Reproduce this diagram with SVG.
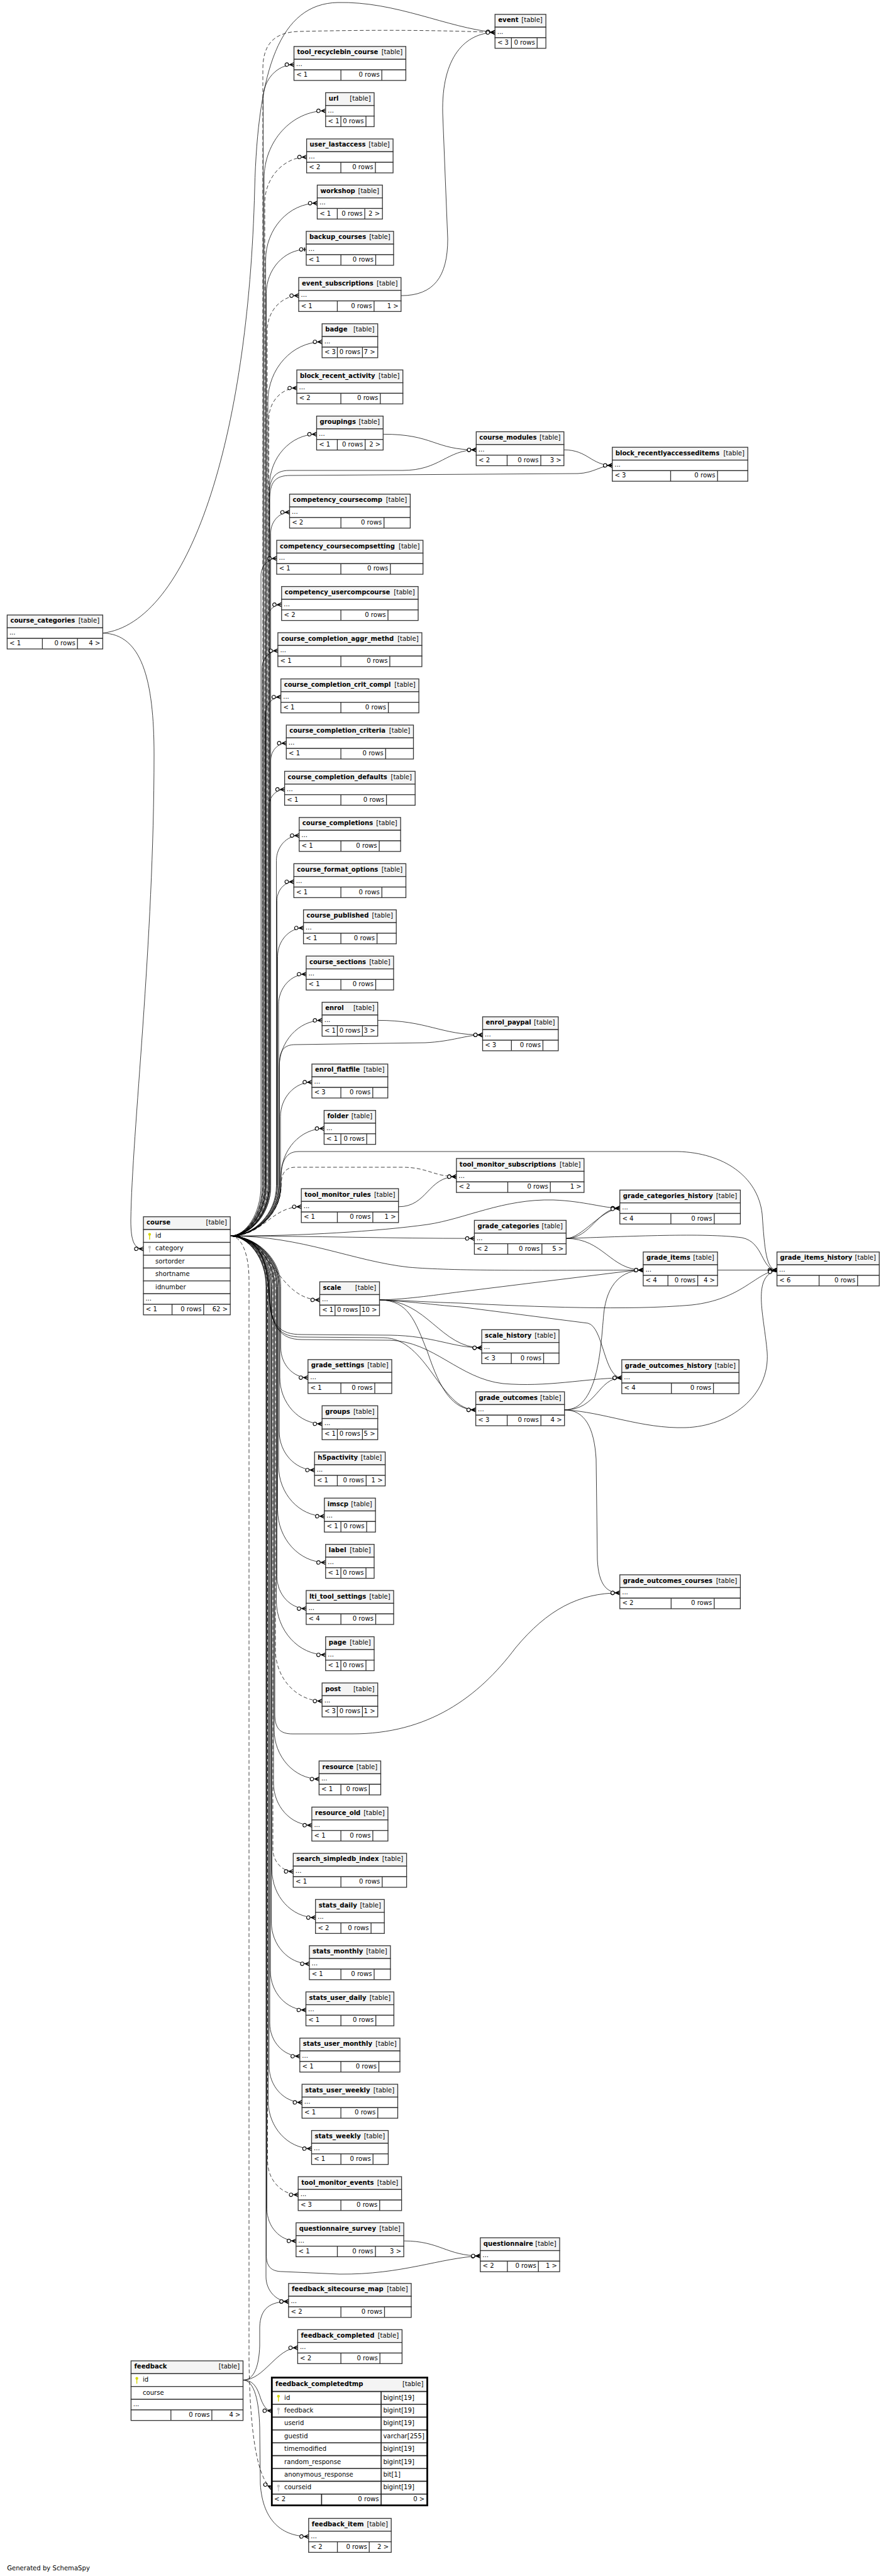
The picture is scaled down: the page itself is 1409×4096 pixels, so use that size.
<svg xmlns="http://www.w3.org/2000/svg" xmlns:xlink="http://www.w3.org/1999/xlink" width="1409" height="4096" viewBox="0 0 1409 4096">
<style>
.h{fill:#f4f4f4;stroke:#333;stroke-width:1.3}
.b{fill:#fff;stroke:#333;stroke-width:1.3}
.l{fill:none;stroke:#333;stroke-width:1.3}
.n{font-family:"DejaVu Sans",sans-serif;font-size:10.1px;font-weight:bold;fill:#000}
.t{font-family:"DejaVu Sans",sans-serif;font-size:10.1px;fill:#000}
.r{text-anchor:end}
.e{fill:none;stroke:#000;stroke-width:0.75;marker-end:url(#m)}
.d{stroke-dasharray:6 3.5}
.o{marker-end:url(#m1)}
</style>
<defs>
<marker id="m" viewBox="-16 -5 17 10" refX="0" refY="0" markerWidth="17" markerHeight="10" markerUnits="userSpaceOnUse" orient="auto" overflow="visible">
<path d="M0,-3.2L-6.8,0L0,3.2M-6.8,0H0" fill="none" stroke="#000" stroke-width="1.3" stroke-dasharray="none"/>
<circle cx="-11.4" cy="0" r="2.8" fill="#fff" stroke="#000" stroke-width="1.1" stroke-dasharray="none"/>
</marker>
<marker id="m1" viewBox="-16 -5 17 10" refX="0" refY="0" markerWidth="17" markerHeight="10" markerUnits="userSpaceOnUse" orient="auto" overflow="visible">
<path d="M-2.6,-3V3" fill="none" stroke="#000" stroke-width="1.8"/>
<circle cx="-8" cy="0" r="2.8" fill="#fff" stroke="#000" stroke-width="1.1"/>
</marker>
<symbol id="k" viewBox="0 0 5 11" width="5" height="11" overflow="visible"><circle cx="2.5" cy="2.3" r="2.2"/><rect x="1.8" y="3.5" width="1.4" height="7.2"/></symbol>
</defs>
<rect width="1409" height="4096" fill="#fff"/>
<g id="connectors">
<path class="e" d="M366.2,1965.3C392.4,1965.3 418.5,1930.3 418.5,1885.3L418.5,156.6C418.5,127 440.6,102.7 467.5,102.7"/>
<path class="e" d="M366.2,1965.3C393.1,1965.3 420,1930.3 420,1885.3L420,283.8C420,224.6 464,176.2 517.8,176.2"/>
<path class="e d" d="M366.2,1965.3C393.6,1965.3 421,1930.3 421,1885.3L421,323C421,282.7 451,249.7 487.6,249.7"/>
<path class="e" d="M366.2,1965.3C394.4,1965.3 422.5,1930.3 422.5,1885.3L422.5,413.3C422.5,363.7 459.4,323.1 504.5,323.1"/>
<path class="e o" d="M366.2,1965.3C394.9,1965.3 423.5,1930.3 423.5,1885.3L423.5,466.5C423.5,428 452.1,396.6 487,396.6"/>
<path class="e d" d="M366.2,1965.3C395.6,1965.3 425,1930.3 425,1885.3L425,525.1C425,494.9 447.5,470.1 475,470.1"/>
<path class="e" d="M366.2,1965.3C396.1,1965.3 426,1930.3 426,1885.3L426,638.4C426,586.3 464.8,543.6 512.2,543.6"/>
<path class="e d" d="M366.2,1965.3C396.9,1965.3 427.5,1930.3 427.5,1885.3L427.5,666C427.5,639 447.5,617 472,617"/>
<path class="e" d="M366.2,1965.3C397.4,1965.3 428.5,1930.3 428.5,1885.3L428.5,772.9C428.5,727.5 462.3,690.4 503.5,690.4"/>
<path class="e" d="M366.2,1965.3C398.4,1965.3 430.5,1930.3 430.5,1885.3L430.5,847.5C430.5,829.4 444,814.5 460.5,814.5"/>
<path class="e" d="M366.2,1965.3C390.6,1965.3 415,1930.3 415,1885.3L415,915.4C415,900.3 426.3,887.9 440,887.9"/>
<path class="e" d="M366.2,1965.3C394.6,1965.3 423,1930.3 423,1885.3L423,988.7C423,973.7 434.2,961.4 447.8,961.4"/>
<path class="e" d="M366.2,1965.3C391.6,1965.3 417,1930.3 417,1885.3L417,1062.2C417,1047.1 428.2,1034.8 441.9,1034.8"/>
<path class="e" d="M366.2,1965.3C393.9,1965.3 421.5,1930.3 421.5,1885.3L421.5,1136C421.5,1120.8 432.8,1108.3 446.7,1108.3"/>
<path class="e" d="M366.2,1965.3C398.4,1965.3 430.5,1930.3 430.5,1885.3L430.5,1209C430.5,1194 441.7,1181.7 455.3,1181.7"/>
<path class="e" d="M366.2,1965.3C396.9,1965.3 427.5,1930.3 427.5,1885.3L427.5,1282.8C427.5,1267.6 438.8,1255.2 452.6,1255.2"/>
<path class="e" d="M366.2,1965.3C402.9,1965.3 439.5,1930.3 439.5,1885.3L439.5,1368.5C439.5,1346.6 455.8,1328.6 475.8,1328.6"/>
<path class="e" d="M366.2,1965.3C403.4,1965.3 440.5,1930.3 440.5,1885.3L440.5,1431.6C440.5,1415.4 452.6,1402.1 467.3,1402.1"/>
<path class="e" d="M366.2,1965.3C403.9,1965.3 441.5,1930.3 441.5,1885.3L441.5,1520.7C441.5,1495.8 460,1475.5 482.6,1475.5"/>
<path class="e" d="M366.2,1965.3C404.6,1965.3 443,1930.3 443,1885.3L443,1597.3C443,1570.7 462.8,1549 486.9,1549"/>
<path class="e" d="M366.2,1965.3C405.1,1965.3 444,1930.3 444,1885.3L444,1697.4C444,1656.2 474.7,1622.4 512.2,1622.4"/>
<path class="e" d="M366.2,1965.3C406.1,1965.3 446,1930.3 446,1885.3L446,1775.7C446,1745.5 468.5,1720.7 496,1720.7"/>
<path class="e" d="M366.2,1965.3C406.6,1965.3 447,1930.3 447,1885.3L447,1869.6C447,1828.2 477.8,1794.4 515.4,1794.4"/>
<path class="e d" d="M366.2,1965.3C420,1965.3 430,1918.8 479.2,1918.8"/>
<path class="e d" d="M366.2,1965.3C392.1,1965.3 418,1930.3 418,1885.3L418,110C418,70 436,51 476,50C600,47 700,48 787.2,51.6"/>
<path class="e" d="M366.2,1965.3C397.1,1965.3 428,1930.3 428,1885.3L428,790C428,762 436,748 460,748L640,748C700,748 710,715.3 757.3,715.3"/>
<path class="e" d="M366.2,1965.3C397.6,1965.3 429,1930.3 429,1885.3L429,795C429,767 437,756 462,756L919,753C945,752 955,740 973.7,740"/>
<path class="e" d="M366.2,1965.3C405.4,1965.3 444.5,1930.3 444.5,1885.3L444.5,1690C444.5,1670 452,1661 470,1661L676,1658C720,1656 740,1645.6 767.5,1645.6"/>
<path class="e" d="M366.2,1965.3C406.1,1965.3 446,1930.3 446,1885.3C446,1850 452,1831 475,1831L1078,1831C1150,1833 1205,1870 1212,1930C1216,1985 1218,2019.5 1235.6,2019.5"/>
<path class="e d" d="M366.2,1965.3C406.6,1965.3 447,1930.3 447,1885.3C447,1868 452,1856 470,1856L640,1856C680,1856 690,1870.9 725.8,1870.9"/>
<path class="e" d="M366.2,1965.3C480,1965.3 600,1958 680,1947C740,1938 800,1906 880,1908C930,1910 960,1921.1 985.7,1921.1"/>
<path class="e" d="M366.2,1965.3C500,1965.3 620,1969.2 754.4,1969.2"/>
<path class="e" d="M366.2,1965.3C480,1965.3 560,2005 650,2015C720,2021 850,2020 1022.9,2019.5"/>
<path class="e" d="M366.2,1965.3C410,1965.3 425,2000 428,2060C430,2110 445,2126 480,2126L610,2127C680,2128 700,2241.8 756.6,2241.8"/>
<path class="e" d="M366.2,1965.3C410,1965.3 425,2000 428,2060C430,2108 445,2122 480,2122L620,2123C690,2124 720,2143.1 766.1,2143.1"/>
<path class="e" d="M366.2,1965.3C410,1965.3 426,2000 429,2060C431,2110 446,2130 480,2130L620,2131C690,2133 730,2192 800,2200C870,2206 930,2192 988.8,2190.8"/>
<path class="e" d="M366.2,1965.3C401.6,1965.3 437,2000.3 437,2045.3L437,2725C437,2748 445,2757 465,2757L560,2757C680,2757 760,2700 820,2620C870,2560 920,2532.8 985.7,2532.8"/>
<path class="e" d="M366.2,1965.3C394.9,1965.3 423.5,2000.3 423.5,2045.3L423.5,3585C423.5,3604 431,3612 450,3612L540,3616C640,3617 700,3590 763.8,3587"/>
<path class="e d" d="M366.2,1965.3C385,1965.3 396,1995.3 396,2035.3L396,3750C397,3870 410,3945 432.3,3955.6"/>
<path class="e d" d="M366.2,1965.3C430,1965.3 440,2066.9 508.5,2066.9"/>
<path class="e" d="M366.2,1965.3C406.4,1965.3 446.5,2000.3 446.5,2045.3L446.5,2143C446.5,2169.2 466,2190.6 489.8,2190.6"/>
<path class="e" d="M366.2,1965.3C405.6,1965.3 445,2000.3 445,2045.3L445,2190.1C445,2230.7 475.2,2264 512.2,2264"/>
<path class="e" d="M366.2,1965.3C405.1,1965.3 444,2000.3 444,2045.3L444,2275.7C444,2309.7 469.3,2337.5 500.2,2337.5"/>
<path class="e" d="M366.2,1965.3C404.6,1965.3 443,2000.3 443,2045.3L443,2330.8C443,2374.9 475.8,2410.9 515.8,2410.9"/>
<path class="e" d="M366.2,1965.3C403.9,1965.3 441.5,2000.3 441.5,2045.3L441.5,2400.5C441.5,2446.6 475.8,2484.4 517.8,2484.4"/>
<path class="e" d="M366.2,1965.3C403.4,1965.3 440.5,2000.3 440.5,2045.3L440.5,2506.8C440.5,2534.8 461.4,2557.8 486.9,2557.8"/>
<path class="e" d="M366.2,1965.3C402.9,1965.3 439.5,2000.3 439.5,2045.3L439.5,2545.2C439.5,2592.6 474.7,2631.3 517.8,2631.3"/>
<path class="e d" d="M366.2,1965.3C402.1,1965.3 438,2000.3 438,2045.3L438,2623.2C438,2668.1 471.4,2704.8 512.2,2704.8"/>
<path class="e" d="M366.2,1965.3C401.1,1965.3 436,2000.3 436,2045.3L436,2750.3C436,2793.5 468.1,2828.8 507.4,2828.8"/>
<path class="e" d="M366.2,1965.3C400.6,1965.3 435,2000.3 435,2045.3L435,2835.2C435,2872 462.4,2902.2 495.9,2902.2"/>
<path class="e d" d="M366.2,1965.3C400.1,1965.3 434,2000.3 434,2045.3L434,2940.2C434,2959.7 448.5,2975.7 466.3,2975.7"/>
<path class="e" d="M366.2,1965.3C399.4,1965.3 432.5,2000.3 432.5,2045.3L432.5,2973C432.5,3014.9 463.6,3049.1 501.7,3049.1"/>
<path class="e" d="M366.2,1965.3C398.9,1965.3 431.5,2000.3 431.5,2045.3L431.5,3056C431.5,3092.6 458.7,3122.6 492,3122.6"/>
<path class="e" d="M366.2,1965.3C398.1,1965.3 430,2000.3 430,2045.3L430,3133.8C430,3168 455.4,3196 486.5,3196"/>
<path class="e" d="M366.2,1965.3C397.6,1965.3 429,2000.3 429,2045.3L429,3216.9C429,3245.8 450.5,3269.5 476.8,3269.5"/>
<path class="e" d="M366.2,1965.3C397.1,1965.3 428,2000.3 428,2045.3L428,3285.4C428,3317 451.5,3342.9 480.3,3342.9"/>
<path class="e" d="M366.2,1965.3C396.4,1965.3 426.5,2000.3 426.5,2045.3L426.5,3340.5C426.5,3382.2 457.5,3416.4 495.5,3416.4"/>
<path class="e d" d="M366.2,1965.3C395.9,1965.3 425.5,2000.3 425.5,2045.3L425.5,3436.2C425.5,3465.7 447.4,3489.8 474.2,3489.8"/>
<path class="e" d="M366.2,1965.3C395.4,1965.3 424.5,2000.3 424.5,2045.3L424.5,3512.3C424.5,3540.3 445.3,3563.2 470.8,3563.2"/>
<path class="e" d="M366.2,1965.3C394.6,1965.3 423,2000.3 423,2045.3L423,3620.1C423,3641.8 439.2,3659.6 458.9,3659.6"/>
<path class="e" d="M163.4,1006.7C300,990 395,700 405,300C410,110 445,6 537,4C630,2 710,44 787.2,51.6"/>
<path class="e" d="M163.4,1006.7C225,1008 245,1080 245,1200C245,1500 210,1800 208,1940C208,1975 214,1985.7 228.1,1985.7"/>
<path class="e" d="M637.8,470.1C690,470.1 712,440 712,380L704,180C702,90 740,52 787.2,51.6"/>
<path class="e" d="M609.3,690.4C690,690.4 690,715.3 757.3,715.3"/>
<path class="e" d="M896.8,715.3C935,715.3 940,740 973.7,740"/>
<path class="e" d="M600.7,1622.4C680,1622.4 700,1645.6 767.5,1645.6"/>
<path class="e" d="M633.7,1918.8C680,1918.8 680,1870.9 725.8,1870.9"/>
<path class="e" d="M900.3,1969.2C940,1969.2 950,1921.1 985.7,1921.1"/>
<path class="e" d="M900.3,1969.2C925,1969.2 955,1924 985.7,1921.1"/>
<path class="e" d="M900.3,1969.2C960,1969.2 970,2019.5 1022.9,2019.5"/>
<path class="e" d="M900.3,1969.2C1000,1966 1120,1960 1180,1968C1215,1975 1210,2019.5 1235.6,2019.5"/>
<path class="e" d="M1141.1,2019.5L1235.6,2019.5"/>
<path class="e" d="M603.9,2066.9C650,2066 700,2058 732,2054L1000,2021C1010,2020 1015,2019.5 1022.9,2019.5"/>
<path class="e" d="M603.9,2066.9C650,2068 690,2071 732,2072C850,2078 1000,2084 1100,2075C1180,2066 1200,2025 1235.6,2019.5"/>
<path class="e" d="M603.9,2066.9C660,2070 700,2076 732,2078L935,2104C960,2110 960,2190.8 988.8,2190.8"/>
<path class="e" d="M603.9,2066.9C680,2066.9 700,2143.1 766.1,2143.1"/>
<path class="e" d="M603.9,2066.9C650,2068 660,2100 680,2150C700,2210 720,2241.8 756.6,2241.8"/>
<path class="e" d="M897.7,2241.8C950,2241.8 955,2150 960,2090C965,2040 990,2019.5 1022.9,2019.5"/>
<path class="e" d="M897.7,2241.8C950,2241.8 950,2190.8 988.8,2190.8"/>
<path class="e" d="M897.7,2241.8C960,2245 1020,2272 1090,2270C1160,2268 1225,2220 1220,2150C1215,2090 1195,2030 1235.6,2019.5"/>
<path class="e" d="M897.7,2241.8C930,2241.8 945,2270 948,2320L950,2480C952,2520 965,2532.8 985.7,2532.8"/>
<path class="e" d="M642.1,3563.2C700,3563.2 710,3587 763.8,3587"/>
<path class="e" d="M386.5,3784.5C405,3784.5 410,3800 415,3815C420,3828 425,3833.2 432.3,3833.2"/>
<path class="e" d="M386.5,3784.5C420,3784.5 440,3733.1 473.4,3733.1"/>
<path class="e" d="M386.5,3784.5C405,3784.5 412,3760 413,3730L413,3700C414,3670 430,3659.6 458.9,3659.6"/>
<path class="e" d="M386.5,3784.5C405,3784.5 412,3820 413,3860L414,3950C418,4010 450,4033.2 490.8,4033.2"/>
</g>
<g id="event" transform="translate(787.2,22.8)"><rect class="h" width="80.9" height="20.4"/><rect class="b" y="20.4" width="80.9" height="16.8"/><rect class="b" y="37.2" width="80.9" height="16.8"/><path class="l" d="M26.1 37.2V54M67 37.2V54"/><text class="n" x="5" y="12.5">event</text><text class="t r" x="75.6" y="12.5">[table]</text><text class="t" x="3.5" y="31.2">...</text><text class="t" x="3.7" y="48.3">&lt; 3</text><text class="t r" x="63.5" y="48.3">0 rows</text></g>
<g id="tool_recyclebin_course" transform="translate(467.5,73.9)"><rect class="h" width="177.9" height="20.4"/><rect class="b" y="20.4" width="177.9" height="16.8"/><rect class="b" y="37.2" width="177.9" height="16.8"/><path class="l" d="M74.65 37.2V54M139.7 37.2V54"/><text class="n" x="5" y="12.5">tool_recyclebin_course</text><text class="t r" x="172.6" y="12.5">[table]</text><text class="t" x="3.5" y="31.2">...</text><text class="t" x="3.7" y="48.3">&lt; 1</text><text class="t r" x="136.2" y="48.3">0 rows</text></g>
<g id="url" transform="translate(517.8,147.4)"><rect class="h" width="77.2" height="20.4"/><rect class="b" y="20.4" width="77.2" height="16.8"/><rect class="b" y="37.2" width="77.2" height="16.8"/><path class="l" d="M24.3 37.2V54M64.2 37.2V54"/><text class="n" x="5" y="12.5">url</text><text class="t r" x="71.9" y="12.5">[table]</text><text class="t" x="3.5" y="31.2">...</text><text class="t" x="3.7" y="48.3">&lt; 1</text><text class="t r" x="60.7" y="48.3">0 rows</text></g>
<g id="user_lastaccess" transform="translate(487.6,220.9)"><rect class="h" width="137.5" height="20.4"/><rect class="b" y="20.4" width="137.5" height="16.8"/><rect class="b" y="37.2" width="137.5" height="16.8"/><path class="l" d="M54.45 37.2V54M109.4 37.2V54"/><text class="n" x="5" y="12.5">user_lastaccess</text><text class="t r" x="132.2" y="12.5">[table]</text><text class="t" x="3.5" y="31.2">...</text><text class="t" x="3.7" y="48.3">&lt; 2</text><text class="t r" x="105.9" y="48.3">0 rows</text></g>
<g id="workshop" transform="translate(504.5,294.3)"><rect class="h" width="103.7" height="20.4"/><rect class="b" y="20.4" width="103.7" height="16.8"/><rect class="b" y="37.2" width="103.7" height="16.8"/><path class="l" d="M31.9 37.2V54M75.6 37.2V54"/><text class="n" x="5" y="12.5">workshop</text><text class="t r" x="98.4" y="12.5">[table]</text><text class="t" x="3.5" y="31.2">...</text><text class="t" x="3.7" y="48.3">&lt; 1</text><text class="t r" x="72.1" y="48.3">0 rows</text><text class="t r" x="99.7" y="48.3">2 &gt;</text></g>
<g id="backup_courses" transform="translate(487,367.8)"><rect class="h" width="138.9" height="20.4"/><rect class="b" y="20.4" width="138.9" height="16.8"/><rect class="b" y="37.2" width="138.9" height="16.8"/><path class="l" d="M55.15 37.2V54M110.5 37.2V54"/><text class="n" x="5" y="12.5">backup_courses</text><text class="t r" x="133.6" y="12.5">[table]</text><text class="t" x="3.5" y="31.2">...</text><text class="t" x="3.7" y="48.3">&lt; 1</text><text class="t r" x="107" y="48.3">0 rows</text></g>
<g id="event_subscriptions" transform="translate(475,441.3)"><rect class="h" width="162.8" height="20.4"/><rect class="b" y="20.4" width="162.8" height="16.8"/><rect class="b" y="37.2" width="162.8" height="16.8"/><path class="l" d="M61.45 37.2V54M119.9 37.2V54"/><text class="n" x="5" y="12.5">event_subscriptions</text><text class="t r" x="157.5" y="12.5">[table]</text><text class="t" x="3.5" y="31.2">...</text><text class="t" x="3.7" y="48.3">&lt; 1</text><text class="t r" x="116.4" y="48.3">0 rows</text><text class="t r" x="158.8" y="48.3">1 &gt;</text></g>
<g id="badge" transform="translate(512.2,514.8)"><rect class="h" width="88.5" height="20.4"/><rect class="b" y="20.4" width="88.5" height="16.8"/><rect class="b" y="37.2" width="88.5" height="16.8"/><path class="l" d="M24.3 37.2V54M64.2 37.2V54"/><text class="n" x="5" y="12.5">badge</text><text class="t r" x="83.2" y="12.5">[table]</text><text class="t" x="3.5" y="31.2">...</text><text class="t" x="3.7" y="48.3">&lt; 3</text><text class="t r" x="60.7" y="48.3">0 rows</text><text class="t r" x="84.5" y="48.3">7 &gt;</text></g>
<g id="block_recent_activity" transform="translate(472,588.2)"><rect class="h" width="168.7" height="20.4"/><rect class="b" y="20.4" width="168.7" height="16.8"/><rect class="b" y="37.2" width="168.7" height="16.8"/><path class="l" d="M70.05 37.2V54M132.8 37.2V54"/><text class="n" x="5" y="12.5">block_recent_activity</text><text class="t r" x="163.4" y="12.5">[table]</text><text class="t" x="3.5" y="31.2">...</text><text class="t" x="3.7" y="48.3">&lt; 2</text><text class="t r" x="129.3" y="48.3">0 rows</text></g>
<g id="groupings" transform="translate(503.5,661.6)"><rect class="h" width="105.8" height="20.4"/><rect class="b" y="20.4" width="105.8" height="16.8"/><rect class="b" y="37.2" width="105.8" height="16.8"/><path class="l" d="M32.95 37.2V54M77.2 37.2V54"/><text class="n" x="5" y="12.5">groupings</text><text class="t r" x="100.5" y="12.5">[table]</text><text class="t" x="3.5" y="31.2">...</text><text class="t" x="3.7" y="48.3">&lt; 1</text><text class="t r" x="73.7" y="48.3">0 rows</text><text class="t r" x="101.8" y="48.3">2 &gt;</text></g>
<g id="competency_coursecomp" transform="translate(460.5,785.7)"><rect class="h" width="191.9" height="20.4"/><rect class="b" y="20.4" width="191.9" height="16.8"/><rect class="b" y="37.2" width="191.9" height="16.8"/><path class="l" d="M81.65 37.2V54M150.2 37.2V54"/><text class="n" x="5" y="12.5">competency_coursecomp</text><text class="t r" x="186.6" y="12.5">[table]</text><text class="t" x="3.5" y="31.2">...</text><text class="t" x="3.7" y="48.3">&lt; 2</text><text class="t r" x="146.7" y="48.3">0 rows</text></g>
<g id="competency_coursecompsetting" transform="translate(440,859.1)"><rect class="h" width="232.7" height="20.4"/><rect class="b" y="20.4" width="232.7" height="16.8"/><rect class="b" y="37.2" width="232.7" height="16.8"/><path class="l" d="M102.05 37.2V54M180.8 37.2V54"/><text class="n" x="5" y="12.5">competency_coursecompsetting</text><text class="t r" x="227.4" y="12.5">[table]</text><text class="t" x="3.5" y="31.2">...</text><text class="t" x="3.7" y="48.3">&lt; 1</text><text class="t r" x="177.3" y="48.3">0 rows</text></g>
<g id="competency_usercompcourse" transform="translate(447.8,932.6)"><rect class="h" width="217.2" height="20.4"/><rect class="b" y="20.4" width="217.2" height="16.8"/><rect class="b" y="37.2" width="217.2" height="16.8"/><path class="l" d="M94.3 37.2V54M169.2 37.2V54"/><text class="n" x="5" y="12.5">competency_usercompcourse</text><text class="t r" x="211.9" y="12.5">[table]</text><text class="t" x="3.5" y="31.2">...</text><text class="t" x="3.7" y="48.3">&lt; 2</text><text class="t r" x="165.7" y="48.3">0 rows</text></g>
<g id="course_completion_aggr_methd" transform="translate(441.9,1006)"><rect class="h" width="229" height="20.4"/><rect class="b" y="20.4" width="229" height="16.8"/><rect class="b" y="37.2" width="229" height="16.8"/><path class="l" d="M100.2 37.2V54M178 37.2V54"/><text class="n" x="5" y="12.5">course_completion_aggr_methd</text><text class="t r" x="223.7" y="12.5">[table]</text><text class="t" x="3.5" y="31.2">...</text><text class="t" x="3.7" y="48.3">&lt; 1</text><text class="t r" x="174.5" y="48.3">0 rows</text></g>
<g id="course_completion_crit_compl" transform="translate(446.7,1079.5)"><rect class="h" width="219.4" height="20.4"/><rect class="b" y="20.4" width="219.4" height="16.8"/><rect class="b" y="37.2" width="219.4" height="16.8"/><path class="l" d="M95.4 37.2V54M170.9 37.2V54"/><text class="n" x="5" y="12.5">course_completion_crit_compl</text><text class="t r" x="214.1" y="12.5">[table]</text><text class="t" x="3.5" y="31.2">...</text><text class="t" x="3.7" y="48.3">&lt; 1</text><text class="t r" x="167.4" y="48.3">0 rows</text></g>
<g id="course_completion_criteria" transform="translate(455.3,1152.9)"><rect class="h" width="202.2" height="20.4"/><rect class="b" y="20.4" width="202.2" height="16.8"/><rect class="b" y="37.2" width="202.2" height="16.8"/><path class="l" d="M86.8 37.2V54M158 37.2V54"/><text class="n" x="5" y="12.5">course_completion_criteria</text><text class="t r" x="196.9" y="12.5">[table]</text><text class="t" x="3.5" y="31.2">...</text><text class="t" x="3.7" y="48.3">&lt; 1</text><text class="t r" x="154.5" y="48.3">0 rows</text></g>
<g id="course_completion_defaults" transform="translate(452.6,1226.4)"><rect class="h" width="207.6" height="20.4"/><rect class="b" y="20.4" width="207.6" height="16.8"/><rect class="b" y="37.2" width="207.6" height="16.8"/><path class="l" d="M89.5 37.2V54M162 37.2V54"/><text class="n" x="5" y="12.5">course_completion_defaults</text><text class="t r" x="202.3" y="12.5">[table]</text><text class="t" x="3.5" y="31.2">...</text><text class="t" x="3.7" y="48.3">&lt; 1</text><text class="t r" x="158.5" y="48.3">0 rows</text></g>
<g id="course_completions" transform="translate(475.8,1299.8)"><rect class="h" width="161.3" height="20.4"/><rect class="b" y="20.4" width="161.3" height="16.8"/><rect class="b" y="37.2" width="161.3" height="16.8"/><path class="l" d="M66.35 37.2V54M127.3 37.2V54"/><text class="n" x="5" y="12.5">course_completions</text><text class="t r" x="156" y="12.5">[table]</text><text class="t" x="3.5" y="31.2">...</text><text class="t" x="3.7" y="48.3">&lt; 1</text><text class="t r" x="123.8" y="48.3">0 rows</text></g>
<g id="course_format_options" transform="translate(467.3,1373.3)"><rect class="h" width="178.2" height="20.4"/><rect class="b" y="20.4" width="178.2" height="16.8"/><rect class="b" y="37.2" width="178.2" height="16.8"/><path class="l" d="M74.8 37.2V54M140 37.2V54"/><text class="n" x="5" y="12.5">course_format_options</text><text class="t r" x="172.9" y="12.5">[table]</text><text class="t" x="3.5" y="31.2">...</text><text class="t" x="3.7" y="48.3">&lt; 1</text><text class="t r" x="136.5" y="48.3">0 rows</text></g>
<g id="course_published" transform="translate(482.6,1446.7)"><rect class="h" width="147.6" height="20.4"/><rect class="b" y="20.4" width="147.6" height="16.8"/><rect class="b" y="37.2" width="147.6" height="16.8"/><path class="l" d="M59.5 37.2V54M117 37.2V54"/><text class="n" x="5" y="12.5">course_published</text><text class="t r" x="142.3" y="12.5">[table]</text><text class="t" x="3.5" y="31.2">...</text><text class="t" x="3.7" y="48.3">&lt; 1</text><text class="t r" x="113.5" y="48.3">0 rows</text></g>
<g id="course_sections" transform="translate(486.9,1520.2)"><rect class="h" width="139" height="20.4"/><rect class="b" y="20.4" width="139" height="16.8"/><rect class="b" y="37.2" width="139" height="16.8"/><path class="l" d="M55.2 37.2V54M110.6 37.2V54"/><text class="n" x="5" y="12.5">course_sections</text><text class="t r" x="133.7" y="12.5">[table]</text><text class="t" x="3.5" y="31.2">...</text><text class="t" x="3.7" y="48.3">&lt; 1</text><text class="t r" x="107.1" y="48.3">0 rows</text></g>
<g id="enrol" transform="translate(512.2,1593.6)"><rect class="h" width="88.5" height="20.4"/><rect class="b" y="20.4" width="88.5" height="16.8"/><rect class="b" y="37.2" width="88.5" height="16.8"/><path class="l" d="M24.3 37.2V54M64.2 37.2V54"/><text class="n" x="5" y="12.5">enrol</text><text class="t r" x="83.2" y="12.5">[table]</text><text class="t" x="3.5" y="31.2">...</text><text class="t" x="3.7" y="48.3">&lt; 1</text><text class="t r" x="60.7" y="48.3">0 rows</text><text class="t r" x="84.5" y="48.3">3 &gt;</text></g>
<g id="enrol_flatfile" transform="translate(496,1691.9)"><rect class="h" width="120.7" height="20.4"/><rect class="b" y="20.4" width="120.7" height="16.8"/><rect class="b" y="37.2" width="120.7" height="16.8"/><path class="l" d="M46.05 37.2V54M96.8 37.2V54"/><text class="n" x="5" y="12.5">enrol_flatfile</text><text class="t r" x="115.4" y="12.5">[table]</text><text class="t" x="3.5" y="31.2">...</text><text class="t" x="3.7" y="48.3">&lt; 3</text><text class="t r" x="93.3" y="48.3">0 rows</text></g>
<g id="folder" transform="translate(515.4,1765.6)"><rect class="h" width="82" height="20.4"/><rect class="b" y="20.4" width="82" height="16.8"/><rect class="b" y="37.2" width="82" height="16.8"/><path class="l" d="M26.7 37.2V54M67.8 37.2V54"/><text class="n" x="5" y="12.5">folder</text><text class="t r" x="76.7" y="12.5">[table]</text><text class="t" x="3.5" y="31.2">...</text><text class="t" x="3.7" y="48.3">&lt; 1</text><text class="t r" x="64.3" y="48.3">0 rows</text></g>
<g id="tool_monitor_rules" transform="translate(479.2,1890)"><rect class="h" width="154.5" height="20.4"/><rect class="b" y="20.4" width="154.5" height="16.8"/><rect class="b" y="37.2" width="154.5" height="16.8"/><path class="l" d="M57.3 37.2V54M113.7 37.2V54"/><text class="n" x="5" y="12.5">tool_monitor_rules</text><text class="t r" x="149.2" y="12.5">[table]</text><text class="t" x="3.5" y="31.2">...</text><text class="t" x="3.7" y="48.3">&lt; 1</text><text class="t r" x="110.2" y="48.3">0 rows</text><text class="t r" x="150.5" y="48.3">1 &gt;</text></g>
<g id="scale" transform="translate(508.5,2038.1)"><rect class="h" width="95" height="20.4"/><rect class="b" y="20.4" width="95" height="16.8"/><rect class="b" y="37.2" width="95" height="16.8"/><path class="l" d="M24.3 37.2V54M64.2 37.2V54"/><text class="n" x="5" y="12.5">scale</text><text class="t r" x="89.7" y="12.5">[table]</text><text class="t" x="3.5" y="31.2">...</text><text class="t" x="3.7" y="48.3">&lt; 1</text><text class="t r" x="60.7" y="48.3">0 rows</text><text class="t r" x="91" y="48.3">10 &gt;</text></g>
<g id="grade_settings" transform="translate(489.8,2161.8)"><rect class="h" width="133.2" height="20.4"/><rect class="b" y="20.4" width="133.2" height="16.8"/><rect class="b" y="37.2" width="133.2" height="16.8"/><path class="l" d="M52.3 37.2V54M106.2 37.2V54"/><text class="n" x="5" y="12.5">grade_settings</text><text class="t r" x="127.9" y="12.5">[table]</text><text class="t" x="3.5" y="31.2">...</text><text class="t" x="3.7" y="48.3">&lt; 1</text><text class="t r" x="102.7" y="48.3">0 rows</text></g>
<g id="groups" transform="translate(512.2,2235.2)"><rect class="h" width="88.5" height="20.4"/><rect class="b" y="20.4" width="88.5" height="16.8"/><rect class="b" y="37.2" width="88.5" height="16.8"/><path class="l" d="M24.3 37.2V54M64.2 37.2V54"/><text class="n" x="5" y="12.5">groups</text><text class="t r" x="83.2" y="12.5">[table]</text><text class="t" x="3.5" y="31.2">...</text><text class="t" x="3.7" y="48.3">&lt; 1</text><text class="t r" x="60.7" y="48.3">0 rows</text><text class="t r" x="84.5" y="48.3">5 &gt;</text></g>
<g id="h5pactivity" transform="translate(500.2,2308.7)"><rect class="h" width="112.4" height="20.4"/><rect class="b" y="20.4" width="112.4" height="16.8"/><rect class="b" y="37.2" width="112.4" height="16.8"/><path class="l" d="M36.25 37.2V54M82.1 37.2V54"/><text class="n" x="5" y="12.5">h5pactivity</text><text class="t r" x="107.1" y="12.5">[table]</text><text class="t" x="3.5" y="31.2">...</text><text class="t" x="3.7" y="48.3">&lt; 1</text><text class="t r" x="78.6" y="48.3">0 rows</text><text class="t r" x="108.4" y="48.3">1 &gt;</text></g>
<g id="imscp" transform="translate(515.8,2382.1)"><rect class="h" width="81.3" height="20.4"/><rect class="b" y="20.4" width="81.3" height="16.8"/><rect class="b" y="37.2" width="81.3" height="16.8"/><path class="l" d="M26.35 37.2V54M67.3 37.2V54"/><text class="n" x="5" y="12.5">imscp</text><text class="t r" x="76" y="12.5">[table]</text><text class="t" x="3.5" y="31.2">...</text><text class="t" x="3.7" y="48.3">&lt; 1</text><text class="t r" x="63.8" y="48.3">0 rows</text></g>
<g id="label" transform="translate(517.8,2455.6)"><rect class="h" width="77.2" height="20.4"/><rect class="b" y="20.4" width="77.2" height="16.8"/><rect class="b" y="37.2" width="77.2" height="16.8"/><path class="l" d="M24.3 37.2V54M64.2 37.2V54"/><text class="n" x="5" y="12.5">label</text><text class="t r" x="71.9" y="12.5">[table]</text><text class="t" x="3.5" y="31.2">...</text><text class="t" x="3.7" y="48.3">&lt; 1</text><text class="t r" x="60.7" y="48.3">0 rows</text></g>
<g id="lti_tool_settings" transform="translate(486.9,2529)"><rect class="h" width="139.1" height="20.4"/><rect class="b" y="20.4" width="139.1" height="16.8"/><rect class="b" y="37.2" width="139.1" height="16.8"/><path class="l" d="M55.25 37.2V54M110.6 37.2V54"/><text class="n" x="5" y="12.5">lti_tool_settings</text><text class="t r" x="133.8" y="12.5">[table]</text><text class="t" x="3.5" y="31.2">...</text><text class="t" x="3.7" y="48.3">&lt; 4</text><text class="t r" x="107.1" y="48.3">0 rows</text></g>
<g id="page" transform="translate(517.8,2602.5)"><rect class="h" width="77.2" height="20.4"/><rect class="b" y="20.4" width="77.2" height="16.8"/><rect class="b" y="37.2" width="77.2" height="16.8"/><path class="l" d="M24.3 37.2V54M64.2 37.2V54"/><text class="n" x="5" y="12.5">page</text><text class="t r" x="71.9" y="12.5">[table]</text><text class="t" x="3.5" y="31.2">...</text><text class="t" x="3.7" y="48.3">&lt; 1</text><text class="t r" x="60.7" y="48.3">0 rows</text></g>
<g id="post" transform="translate(512.2,2676)"><rect class="h" width="88.5" height="20.4"/><rect class="b" y="20.4" width="88.5" height="16.8"/><rect class="b" y="37.2" width="88.5" height="16.8"/><path class="l" d="M24.3 37.2V54M64.2 37.2V54"/><text class="n" x="5" y="12.5">post</text><text class="t r" x="83.2" y="12.5">[table]</text><text class="t" x="3.5" y="31.2">...</text><text class="t" x="3.7" y="48.3">&lt; 3</text><text class="t r" x="60.7" y="48.3">0 rows</text><text class="t r" x="84.5" y="48.3">1 &gt;</text></g>
<g id="resource" transform="translate(507.4,2800)"><rect class="h" width="98.1" height="20.4"/><rect class="b" y="20.4" width="98.1" height="16.8"/><rect class="b" y="37.2" width="98.1" height="16.8"/><path class="l" d="M34.75 37.2V54M79.9 37.2V54"/><text class="n" x="5" y="12.5">resource</text><text class="t r" x="92.8" y="12.5">[table]</text><text class="t" x="3.5" y="31.2">...</text><text class="t" x="3.7" y="48.3">&lt; 1</text><text class="t r" x="76.4" y="48.3">0 rows</text></g>
<g id="resource_old" transform="translate(495.9,2873.4)"><rect class="h" width="121" height="20.4"/><rect class="b" y="20.4" width="121" height="16.8"/><rect class="b" y="37.2" width="121" height="16.8"/><path class="l" d="M46.2 37.2V54M97 37.2V54"/><text class="n" x="5" y="12.5">resource_old</text><text class="t r" x="115.7" y="12.5">[table]</text><text class="t" x="3.5" y="31.2">...</text><text class="t" x="3.7" y="48.3">&lt; 1</text><text class="t r" x="93.5" y="48.3">0 rows</text></g>
<g id="search_simpledb_index" transform="translate(466.3,2946.9)"><rect class="h" width="180.3" height="20.4"/><rect class="b" y="20.4" width="180.3" height="16.8"/><rect class="b" y="37.2" width="180.3" height="16.8"/><path class="l" d="M75.85 37.2V54M141.5 37.2V54"/><text class="n" x="5" y="12.5">search_simpledb_index</text><text class="t r" x="175" y="12.5">[table]</text><text class="t" x="3.5" y="31.2">...</text><text class="t" x="3.7" y="48.3">&lt; 1</text><text class="t r" x="138" y="48.3">0 rows</text></g>
<g id="stats_daily" transform="translate(501.7,3020.3)"><rect class="h" width="109.5" height="20.4"/><rect class="b" y="20.4" width="109.5" height="16.8"/><rect class="b" y="37.2" width="109.5" height="16.8"/><path class="l" d="M40.45 37.2V54M88.4 37.2V54"/><text class="n" x="5" y="12.5">stats_daily</text><text class="t r" x="104.2" y="12.5">[table]</text><text class="t" x="3.5" y="31.2">...</text><text class="t" x="3.7" y="48.3">&lt; 2</text><text class="t r" x="84.9" y="48.3">0 rows</text></g>
<g id="stats_monthly" transform="translate(492,3093.8)"><rect class="h" width="128.9" height="20.4"/><rect class="b" y="20.4" width="128.9" height="16.8"/><rect class="b" y="37.2" width="128.9" height="16.8"/><path class="l" d="M50.15 37.2V54M103 37.2V54"/><text class="n" x="5" y="12.5">stats_monthly</text><text class="t r" x="123.6" y="12.5">[table]</text><text class="t" x="3.5" y="31.2">...</text><text class="t" x="3.7" y="48.3">&lt; 1</text><text class="t r" x="99.5" y="48.3">0 rows</text></g>
<g id="stats_user_daily" transform="translate(486.5,3167.2)"><rect class="h" width="139.9" height="20.4"/><rect class="b" y="20.4" width="139.9" height="16.8"/><rect class="b" y="37.2" width="139.9" height="16.8"/><path class="l" d="M55.65 37.2V54M111.2 37.2V54"/><text class="n" x="5" y="12.5">stats_user_daily</text><text class="t r" x="134.6" y="12.5">[table]</text><text class="t" x="3.5" y="31.2">...</text><text class="t" x="3.7" y="48.3">&lt; 1</text><text class="t r" x="107.7" y="48.3">0 rows</text></g>
<g id="stats_user_monthly" transform="translate(476.8,3240.7)"><rect class="h" width="159.2" height="20.4"/><rect class="b" y="20.4" width="159.2" height="16.8"/><rect class="b" y="37.2" width="159.2" height="16.8"/><path class="l" d="M65.3 37.2V54M125.7 37.2V54"/><text class="n" x="5" y="12.5">stats_user_monthly</text><text class="t r" x="153.9" y="12.5">[table]</text><text class="t" x="3.5" y="31.2">...</text><text class="t" x="3.7" y="48.3">&lt; 1</text><text class="t r" x="122.2" y="48.3">0 rows</text></g>
<g id="stats_user_weekly" transform="translate(480.3,3314.1)"><rect class="h" width="152.2" height="20.4"/><rect class="b" y="20.4" width="152.2" height="16.8"/><rect class="b" y="37.2" width="152.2" height="16.8"/><path class="l" d="M61.8 37.2V54M120.5 37.2V54"/><text class="n" x="5" y="12.5">stats_user_weekly</text><text class="t r" x="146.9" y="12.5">[table]</text><text class="t" x="3.5" y="31.2">...</text><text class="t" x="3.7" y="48.3">&lt; 1</text><text class="t r" x="117" y="48.3">0 rows</text></g>
<g id="stats_weekly" transform="translate(495.5,3387.6)"><rect class="h" width="121.9" height="20.4"/><rect class="b" y="20.4" width="121.9" height="16.8"/><rect class="b" y="37.2" width="121.9" height="16.8"/><path class="l" d="M46.65 37.2V54M97.7 37.2V54"/><text class="n" x="5" y="12.5">stats_weekly</text><text class="t r" x="116.6" y="12.5">[table]</text><text class="t" x="3.5" y="31.2">...</text><text class="t" x="3.7" y="48.3">&lt; 1</text><text class="t r" x="94.2" y="48.3">0 rows</text></g>
<g id="tool_monitor_events" transform="translate(474.2,3461)"><rect class="h" width="164.4" height="20.4"/><rect class="b" y="20.4" width="164.4" height="16.8"/><rect class="b" y="37.2" width="164.4" height="16.8"/><path class="l" d="M67.9 37.2V54M129.6 37.2V54"/><text class="n" x="5" y="12.5">tool_monitor_events</text><text class="t r" x="159.1" y="12.5">[table]</text><text class="t" x="3.5" y="31.2">...</text><text class="t" x="3.7" y="48.3">&lt; 3</text><text class="t r" x="126.1" y="48.3">0 rows</text></g>
<g id="questionnaire_survey" transform="translate(470.8,3534.4)"><rect class="h" width="171.3" height="20.4"/><rect class="b" y="20.4" width="171.3" height="16.8"/><rect class="b" y="37.2" width="171.3" height="16.8"/><path class="l" d="M65.7 37.2V54M126.3 37.2V54"/><text class="n" x="5" y="12.5">questionnaire_survey</text><text class="t r" x="166" y="12.5">[table]</text><text class="t" x="3.5" y="31.2">...</text><text class="t" x="3.7" y="48.3">&lt; 1</text><text class="t r" x="122.8" y="48.3">0 rows</text><text class="t r" x="167.3" y="48.3">3 &gt;</text></g>
<g id="feedback_sitecourse_map" transform="translate(458.9,3630.8)"><rect class="h" width="195.1" height="20.4"/><rect class="b" y="20.4" width="195.1" height="16.8"/><rect class="b" y="37.2" width="195.1" height="16.8"/><path class="l" d="M83.25 37.2V54M152.6 37.2V54"/><text class="n" x="5" y="12.5">feedback_sitecourse_map</text><text class="t r" x="189.8" y="12.5">[table]</text><text class="t" x="3.5" y="31.2">...</text><text class="t" x="3.7" y="48.3">&lt; 2</text><text class="t r" x="149.1" y="48.3">0 rows</text></g>
<g id="feedback_completed" transform="translate(473.4,3704.3)"><rect class="h" width="166" height="20.4"/><rect class="b" y="20.4" width="166" height="16.8"/><rect class="b" y="37.2" width="166" height="16.8"/><path class="l" d="M68.7 37.2V54M130.8 37.2V54"/><text class="n" x="5" y="12.5">feedback_completed</text><text class="t r" x="160.7" y="12.5">[table]</text><text class="t" x="3.5" y="31.2">...</text><text class="t" x="3.7" y="48.3">&lt; 2</text><text class="t r" x="127.3" y="48.3">0 rows</text></g>
<g id="feedback_item" transform="translate(490.8,4004.4)"><rect class="h" width="131.4" height="20.4"/><rect class="b" y="20.4" width="131.4" height="16.8"/><rect class="b" y="37.2" width="131.4" height="16.8"/><path class="l" d="M45.75 37.2V54M96.4 37.2V54"/><text class="n" x="5" y="12.5">feedback_item</text><text class="t r" x="126.1" y="12.5">[table]</text><text class="t" x="3.5" y="31.2">...</text><text class="t" x="3.7" y="48.3">&lt; 2</text><text class="t r" x="92.9" y="48.3">0 rows</text><text class="t r" x="127.4" y="48.3">2 &gt;</text></g>
<g id="course_modules" transform="translate(757.3,686.5)"><rect class="h" width="139.5" height="20.4"/><rect class="b" y="20.4" width="139.5" height="16.8"/><rect class="b" y="37.2" width="139.5" height="16.8"/><path class="l" d="M49.2 37.2V54M102.7 37.2V54"/><text class="n" x="5" y="12.5">course_modules</text><text class="t r" x="134.2" y="12.5">[table]</text><text class="t" x="3.5" y="31.2">...</text><text class="t" x="3.7" y="48.3">&lt; 2</text><text class="t r" x="99.2" y="48.3">0 rows</text><text class="t r" x="135.5" y="48.3">3 &gt;</text></g>
<g id="block_recentlyaccesseditems" transform="translate(973.7,711.2)"><rect class="h" width="215.5" height="20.4"/><rect class="b" y="20.4" width="215.5" height="16.8"/><rect class="b" y="37.2" width="215.5" height="16.8"/><path class="l" d="M92.8 37.2V54M167.4 37.2V54"/><text class="n" x="5" y="12.5">block_recentlyaccesseditems</text><text class="t r" x="210.2" y="12.5">[table]</text><text class="t" x="3.5" y="31.2">...</text><text class="t" x="3.7" y="48.3">&lt; 3</text><text class="t r" x="163.9" y="48.3">0 rows</text></g>
<g id="course_categories" transform="translate(11.4,977.9)"><rect class="h" width="152" height="20.4"/><rect class="b" y="20.4" width="152" height="16.8"/><rect class="b" y="37.2" width="152" height="16.8"/><path class="l" d="M56 37.2V54M111.8 37.2V54"/><text class="n" x="5" y="12.5">course_categories</text><text class="t r" x="146.7" y="12.5">[table]</text><text class="t" x="3.5" y="31.2">...</text><text class="t" x="3.7" y="48.3">&lt; 1</text><text class="t r" x="108.3" y="48.3">0 rows</text><text class="t r" x="148" y="48.3">4 &gt;</text></g>
<g id="tool_monitor_subscriptions" transform="translate(725.8,1842.1)"><rect class="h" width="203" height="20.4"/><rect class="b" y="20.4" width="203" height="16.8"/><rect class="b" y="37.2" width="203" height="16.8"/><path class="l" d="M81.7 37.2V54M149.4 37.2V54"/><text class="n" x="5" y="12.5">tool_monitor_subscriptions</text><text class="t r" x="197.7" y="12.5">[table]</text><text class="t" x="3.5" y="31.2">...</text><text class="t" x="3.7" y="48.3">&lt; 2</text><text class="t r" x="145.9" y="48.3">0 rows</text><text class="t r" x="199" y="48.3">1 &gt;</text></g>
<g id="grade_categories_history" transform="translate(985.7,1892.3)"><rect class="h" width="191.7" height="20.4"/><rect class="b" y="20.4" width="191.7" height="16.8"/><rect class="b" y="37.2" width="191.7" height="16.8"/><path class="l" d="M81.2 37.2V54M150.2 37.2V54"/><text class="n" x="5" y="12.5">grade_categories_history</text><text class="t r" x="186.4" y="12.5">[table]</text><text class="t" x="3.5" y="31.2">...</text><text class="t" x="3.7" y="48.3">&lt; 4</text><text class="t r" x="146.7" y="48.3">0 rows</text></g>
<g id="grade_categories" transform="translate(754.4,1940.4)"><rect class="h" width="145.9" height="20.4"/><rect class="b" y="20.4" width="145.9" height="16.8"/><rect class="b" y="37.2" width="145.9" height="16.8"/><path class="l" d="M53.1 37.2V54M107.4 37.2V54"/><text class="n" x="5" y="12.5">grade_categories</text><text class="t r" x="140.6" y="12.5">[table]</text><text class="t" x="3.5" y="31.2">...</text><text class="t" x="3.7" y="48.3">&lt; 2</text><text class="t r" x="103.9" y="48.3">0 rows</text><text class="t r" x="141.9" y="48.3">5 &gt;</text></g>
<g id="grade_items" transform="translate(1022.9,1990.7)"><rect class="h" width="118.2" height="20.4"/><rect class="b" y="20.4" width="118.2" height="16.8"/><rect class="b" y="37.2" width="118.2" height="16.8"/><path class="l" d="M39.3 37.2V54M86.7 37.2V54"/><text class="n" x="5" y="12.5">grade_items</text><text class="t r" x="112.9" y="12.5">[table]</text><text class="t" x="3.5" y="31.2">...</text><text class="t" x="3.7" y="48.3">&lt; 4</text><text class="t r" x="83.2" y="48.3">0 rows</text><text class="t r" x="114.2" y="48.3">4 &gt;</text></g>
<g id="grade_items_history" transform="translate(1235.6,1990.7)"><rect class="h" width="162.7" height="20.4"/><rect class="b" y="20.4" width="162.7" height="16.8"/><rect class="b" y="37.2" width="162.7" height="16.8"/><path class="l" d="M67 37.2V54M128.2 37.2V54"/><text class="n" x="5" y="12.5">grade_items_history</text><text class="t r" x="157.4" y="12.5">[table]</text><text class="t" x="3.5" y="31.2">...</text><text class="t" x="3.7" y="48.3">&lt; 6</text><text class="t r" x="124.7" y="48.3">0 rows</text></g>
<g id="scale_history" transform="translate(766.1,2114.3)"><rect class="h" width="122.9" height="20.4"/><rect class="b" y="20.4" width="122.9" height="16.8"/><rect class="b" y="37.2" width="122.9" height="16.8"/><path class="l" d="M47 37.2V54M98.4 37.2V54"/><text class="n" x="5" y="12.5">scale_history</text><text class="t r" x="117.6" y="12.5">[table]</text><text class="t" x="3.5" y="31.2">...</text><text class="t" x="3.7" y="48.3">&lt; 3</text><text class="t r" x="94.9" y="48.3">0 rows</text></g>
<g id="grade_outcomes_history" transform="translate(988.8,2162)"><rect class="h" width="186.4" height="20.4"/><rect class="b" y="20.4" width="186.4" height="16.8"/><rect class="b" y="37.2" width="186.4" height="16.8"/><path class="l" d="M78.9 37.2V54M145.8 37.2V54"/><text class="n" x="5" y="12.5">grade_outcomes_history</text><text class="t r" x="181.1" y="12.5">[table]</text><text class="t" x="3.5" y="31.2">...</text><text class="t" x="3.7" y="48.3">&lt; 4</text><text class="t r" x="142.3" y="48.3">0 rows</text></g>
<g id="grade_outcomes" transform="translate(756.6,2213)"><rect class="h" width="141.1" height="20.4"/><rect class="b" y="20.4" width="141.1" height="16.8"/><rect class="b" y="37.2" width="141.1" height="16.8"/><path class="l" d="M50 37.2V54M103.6 37.2V54"/><text class="n" x="5" y="12.5">grade_outcomes</text><text class="t r" x="135.8" y="12.5">[table]</text><text class="t" x="3.5" y="31.2">...</text><text class="t" x="3.7" y="48.3">&lt; 3</text><text class="t r" x="100.1" y="48.3">0 rows</text><text class="t r" x="137.1" y="48.3">4 &gt;</text></g>
<g id="grade_outcomes_courses" transform="translate(985.7,2504)"><rect class="h" width="191.7" height="20.4"/><rect class="b" y="20.4" width="191.7" height="16.8"/><rect class="b" y="37.2" width="191.7" height="16.8"/><path class="l" d="M81.6 37.2V54M150.1 37.2V54"/><text class="n" x="5" y="12.5">grade_outcomes_courses</text><text class="t r" x="186.4" y="12.5">[table]</text><text class="t" x="3.5" y="31.2">...</text><text class="t" x="3.7" y="48.3">&lt; 2</text><text class="t r" x="146.6" y="48.3">0 rows</text></g>
<g id="enrol_paypal" transform="translate(767.5,1616.8)"><rect class="h" width="120.3" height="20.4"/><rect class="b" y="20.4" width="120.3" height="16.8"/><rect class="b" y="37.2" width="120.3" height="16.8"/><path class="l" d="M45.8 37.2V54M95.9 37.2V54"/><text class="n" x="5" y="12.5">enrol_paypal</text><text class="t r" x="115" y="12.5">[table]</text><text class="t" x="3.5" y="31.2">...</text><text class="t" x="3.7" y="48.3">&lt; 3</text><text class="t r" x="92.4" y="48.3">0 rows</text></g>
<g id="questionnaire" transform="translate(763.8,3558.2)"><rect class="h" width="126.2" height="20.4"/><rect class="b" y="20.4" width="126.2" height="16.8"/><rect class="b" y="37.2" width="126.2" height="16.8"/><path class="l" d="M43.1 37.2V54M92.4 37.2V54"/><text class="n" x="5" y="12.5">questionnaire</text><text class="t r" x="120.9" y="12.5">[table]</text><text class="t" x="3.5" y="31.2">...</text><text class="t" x="3.7" y="48.3">&lt; 2</text><text class="t r" x="88.9" y="48.3">0 rows</text><text class="t r" x="122.2" y="48.3">1 &gt;</text></g>
<g id="course" transform="translate(228.1,1934.7)"><rect class="h" width="138.1" height="20.4"/><rect class="b" y="20.4" width="138.1" height="20.4"/><rect class="b" y="40.8" width="138.1" height="20.4"/><rect class="b" y="61.2" width="138.1" height="20.4"/><rect class="b" y="81.6" width="138.1" height="20.4"/><rect class="b" y="102" width="138.1" height="20.4"/><rect class="b" y="122.4" width="138.1" height="16.8"/><rect class="b" y="139.2" width="138.1" height="16.8"/><path class="l" d="M45.5 139.2V156M95.8 139.2V156"/><text class="n" x="5" y="12.5">course</text><text class="t r" x="132.8" y="12.5">[table]</text><use href="#k" x="7.3" y="25.6" fill="#d6d600"/><use href="#k" x="7.3" y="46" fill="#c4c4c4"/><text class="t" x="19" y="33.4">id</text><text class="t" x="19" y="53.8">category</text><text class="t" x="19" y="74.2">sortorder</text><text class="t" x="19" y="94.6">shortname</text><text class="t" x="19" y="115">idnumber</text><text class="t" x="3.3" y="133.2">...</text><text class="t" x="3.7" y="150.3">&lt; 1</text><text class="t r" x="92.3" y="150.3">0 rows</text><text class="t r" x="134.1" y="150.3">62 &gt;</text></g>
<g id="feedback" transform="translate(208.4,3753.9)"><rect class="h" width="178.1" height="20.4"/><rect class="b" y="20.4" width="178.1" height="20.4"/><rect class="b" y="40.8" width="178.1" height="20.4"/><rect class="b" y="61.2" width="178.1" height="16.8"/><rect class="b" y="78" width="178.1" height="16.8"/><path class="l" d="M63.4 78V94.8M128.5 78V94.8"/><text class="n" x="5" y="12.5">feedback</text><text class="t r" x="172.8" y="12.5">[table]</text><use href="#k" x="6.7" y="25.6" fill="#d6d600"/><text class="t" x="18.5" y="33.4">id</text><text class="t" x="18.5" y="53.8">course</text><text class="t" x="3.3" y="72">...</text><text class="t r" x="125" y="89.1">0 rows</text><text class="t r" x="174.1" y="89.1">4 &gt;</text></g>
<g id="feedback_completedtmp" transform="translate(432.3,3780.5)"><rect class="h" width="247.2" height="22.1" style="stroke:none"/><rect class="b" y="22.1" width="247.2" height="163.2" style="stroke:none"/><path d="M0 22.1H247.2M0 42.5H247.2M0 62.9H247.2M0 83.3H247.2M0 103.7H247.2M0 124.1H247.2M0 144.5H247.2M0 164.9H247.2M0 185.3H247.2M173.8 22.1V203.2M79.1 185.3V203.2" fill="none" stroke="#222" stroke-width="1.6"/><rect width="247.2" height="203.2" fill="none" stroke="#000" stroke-width="2.8"/><text class="n" x="5.7" y="13.8">feedback_completedtmp</text><text class="t r" x="241.1" y="13.8">[table]</text><use href="#k" x="8" y="27.3" fill="#d6d600"/><use href="#k" x="8" y="47.7" fill="#c4c4c4"/><use href="#k" x="8" y="170.1" fill="#c4c4c4"/><text class="t" x="19.8" y="35.1">id</text><text class="t" x="19.8" y="55.5">feedback</text><text class="t" x="19.8" y="75.9">userid</text><text class="t" x="19.8" y="96.3">guestid</text><text class="t" x="19.8" y="116.7">timemodified</text><text class="t" x="19.8" y="137.1">random_response</text><text class="t" x="19.8" y="157.5">anonymous_response</text><text class="t" x="19.8" y="177.9">courseid</text><text class="t" x="177.1" y="35.1">bigint[19]</text><text class="t" x="177.1" y="55.5">bigint[19]</text><text class="t" x="177.1" y="75.9">bigint[19]</text><text class="t" x="177.1" y="96.3">varchar[255]</text><text class="t" x="177.1" y="116.7">bigint[19]</text><text class="t" x="177.1" y="137.1">bigint[19]</text><text class="t" x="177.1" y="157.5">bit[1]</text><text class="t" x="177.1" y="177.9">bigint[19]</text><text class="t" x="3.7" y="196.7">&lt; 2</text><text class="t r" x="170.3" y="196.7">0 rows</text><text class="t r" x="243" y="196.7">0 &gt;</text></g>
<text id="footer" class="t" x="11.2" y="4086.6">Generated by SchemaSpy</text>
</svg>
